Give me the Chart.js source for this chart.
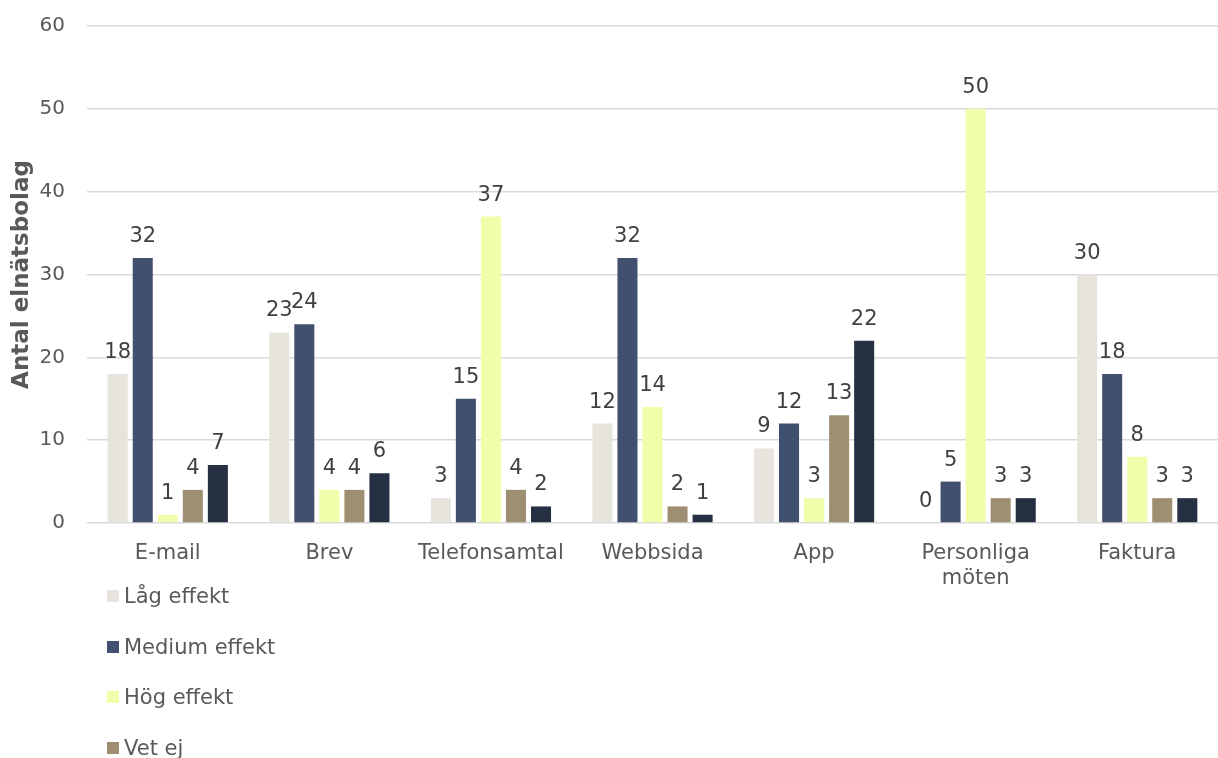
<!DOCTYPE html>
<html>
<head>
<meta charset="utf-8">
<script src="https://cdn.jsdelivr.net/npm/chart.js@4.4.1/dist/chart.umd.min.js"></script>
<style>
  html, body { margin: 0; padding: 0; background: #fff; overflow: hidden; }
  #wrap { position: relative; width: 1218px; height: 758px; overflow: hidden; }
  #chartBox { position: absolute; left: 0; top: -8px; width: 1218px; height: 608px; }
  #legend { position: absolute; left: 107px; top: 584px; font-family: "DejaVu Sans", Verdana, sans-serif; font-size: 21px; color: #595959; }
  .lg-item { height: 50.7px; display: flex; align-items: flex-start; }
  .lg-box { width: 12px; height: 12px; margin-top: 6px; margin-right: 5px; }
</style>
</head>
<body>
<div id="wrap">
  <div id="chartBox"><canvas id="c"></canvas></div>
  <div id="legend"></div>
</div>
<script>
// categories and series
const CATEGORIES = ['E-mail', 'Brev', 'Telefonsamtal', 'Webbsida', 'App', ['Personliga', 'möten'], 'Faktura'];
const SERIES_NAMES = ['Låg effekt', 'Medium effekt', 'Hög effekt', 'Vet ej', 'Ej aktuellt'];
const LAG = [18, 23, 3, 12, 9, 0, 30];
const MEDIUM = [32, 24, 15, 32, 12, 5, 18];
const HOG = [1, 4, 37, 14, 3, 50, 8];
const VET_EJ = [4, 4, 4, 2, 13, 3, 3];
const EJ_AKTUELLT = [7, 6, 2, 1, 22, 3, 3];
const Y_TICKS = [0, 10, 20, 30, 40, 50, 60];

const COLORS = ['#E7E4DE', '#41506F', '#F2FDAC', '#9E8F72', '#253043'];
const FONT = '"DejaVu Sans", Verdana, sans-serif';

// value labels above every bar
const valueLabels = {
  id: 'valueLabels',
  afterDatasetsDraw(chart) {
    const ctx = chart.ctx;
    ctx.save();
    ctx.font = '21px ' + FONT;
    ctx.fillStyle = '#404040';
    ctx.textAlign = 'center';
    ctx.textBaseline = 'alphabetic';
    chart.data.datasets.forEach((ds, i) => {
      chart.getDatasetMeta(i).data.forEach((bar, j) => {
        ctx.fillText(String(ds.data[j]), bar.x, bar.y - 16);
      });
    });
    ctx.restore();
  }
};

const seriesData = [LAG, MEDIUM, HOG, VET_EJ, EJ_AKTUELLT];

const chart = new Chart(document.getElementById('c'), {
  type: 'bar',
  data: {
    labels: CATEGORIES,
    datasets: SERIES_NAMES.map((name, i) => ({
      label: name,
      data: seriesData[i],
      backgroundColor: COLORS[i],
      borderWidth: 0,
      categoryPercentage: 0.775,
      barPercentage: 0.8
    }))
  },
  options: {
    responsive: true,
    maintainAspectRatio: false,
    animation: false,
    layout: { padding: { top: 17, right: 0, left: 0, bottom: 0 } },
    plugins: { legend: { display: false }, tooltip: { enabled: false } },
    scales: {
      x: {
        grid: { display: false, drawTicks: false },
        border: { display: false },
        ticks: { color: '#595959', font: { family: FONT, size: 21 }, padding: 18, maxRotation: 0, autoSkip: false },
        afterFit(scale) { scale.height = 77; }
      },
      y: {
        min: 0,
        max: 60,
        afterBuildTicks(scale) { scale.ticks = Y_TICKS.map(v => ({ value: v })); },
        grid: { color: '#d9d9d9', lineWidth: 1.5, drawTicks: false },
        border: { display: false },
        ticks: { color: '#595959', font: { family: FONT, size: 20 }, padding: 22 },
        title: {
          display: true,
          text: 'Antal elnätsbolag',
          color: '#595959',
          font: { family: FONT, size: 23, weight: 'bold' },
          padding: { top: 8, bottom: 0 }
        },
        afterFit(scale) { scale.width = 87; }
      }
    }
  },
  plugins: [valueLabels]
});

// vertical legend under the plot
document.getElementById('legend').innerHTML = chart.data.datasets.map(ds =>
  `<div class="lg-item"><span class="lg-box" style="background:${ds.backgroundColor}"></span>${ds.label}</div>`
).join('');
</script>
</body>
</html>
